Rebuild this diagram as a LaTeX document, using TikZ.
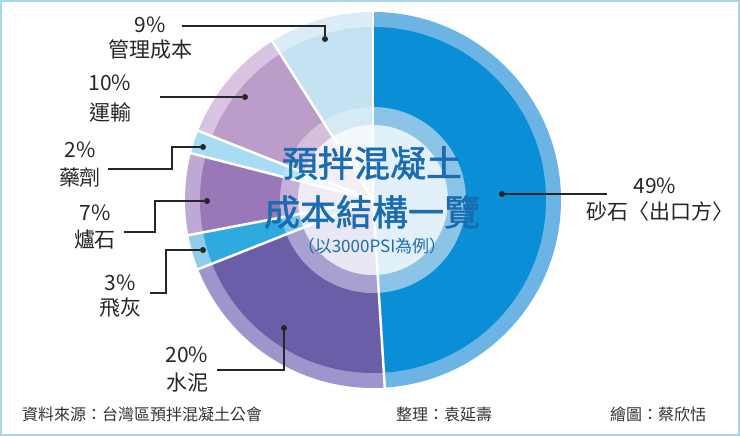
\documentclass[tikz,border=0pt]{standalone}
\usepackage{fontspec}
\setmainfont{Noto Sans CJK TC}
\newfontfamily\cjkb[FakeBold=1.5]{Noto Sans CJK TC}
\definecolor{sA}{HTML}{6CB4E4}\definecolor{sB}{HTML}{0A8FD6}\definecolor{sC}{HTML}{8CC4E8}
\definecolor{cA}{HTML}{9C96CC}\definecolor{cB}{HTML}{6A5EA8}\definecolor{cC}{HTML}{A8A0D0}
\definecolor{fA}{HTML}{90CDEC}\definecolor{fB}{HTML}{2EAADE}\definecolor{fC}{HTML}{7CC8EC}
\definecolor{lA}{HTML}{C0A8D4}\definecolor{lB}{HTML}{9A78B8}\definecolor{lC}{HTML}{C4B0D8}
\definecolor{yA}{HTML}{A8DCF4}\definecolor{yB}{HTML}{A8DCF4}\definecolor{yC}{HTML}{B8E2F6}
\definecolor{tA}{HTML}{D8C4E0}\definecolor{tB}{HTML}{BC9CC8}\definecolor{tC}{HTML}{D4C0DC}
\definecolor{gA}{HTML}{DCECF6}\definecolor{gB}{HTML}{C4E2F2}\definecolor{gC}{HTML}{D4EAF6}
\definecolor{frame}{HTML}{A8D4EC}\definecolor{ttl}{HTML}{1A6CB0}
\newcommand{\pieslice}[5]{%
 \fill[#3] (373,236) -- ++(#1:188) arc[start angle=#1,end angle=#2,radius=188] -- cycle;
 \fill[#4] (373,236) -- ++(#1:173) arc[start angle=#1,end angle=#2,radius=173] -- cycle;
 \fill[#5] (373,236) -- ++(#1:93) arc[start angle=#1,end angle=#2,radius=93] -- cycle;}
\tikzset{lbl/.style={font=\fontsize{21}{23}\selectfont,text=black!85,inner sep=0pt},
 lead/.style={draw=black!85,line width=1.2pt},
 dotn/.style={circle,fill=black!85,inner sep=0pt,minimum size=6pt},
 foot/.style={font=\fontsize{16}{18}\selectfont,text=black!80,anchor=west,inner sep=0pt},
 ttlt/.style={text=ttl,inner sep=0pt}}
\begin{document}
\begin{tikzpicture}[x=1pt,y=1pt]
\useasboundingbox (0,0) rectangle (740,436);
\draw[frame,line width=2pt] (1,1) rectangle (739,435);
\pieslice{90}{-86.4}{sA}{sB}{sC}
\pieslice{-86.4}{-158.4}{cA}{cB}{cC}
\pieslice{-158.4}{-169.2}{fA}{fB}{fC}
\pieslice{-169.2}{-194.4}{lA}{lB}{lC}
\pieslice{-194.4}{-201.6}{yA}{yB}{yC}
\pieslice{-201.6}{-237.6}{tA}{tB}{tC}
\pieslice{-237.6}{-270}{gA}{gB}{gC}
\foreach \a in {90,-86.4,-158.4,-169.2,-194.4,-201.6,-237.6}
  \draw[white,line width=2.5pt] (373,236) -- ++(\a:190);
\fill[white,opacity=0.75] (373,236) circle (75);
% title
\node[ttlt,font=\cjkb\fontsize{36}{38}\selectfont] (t1) at (372,273) {預拌混凝土};
\node[ttlt,font=\cjkb\fontsize{36}{38}\selectfont] (t2) at (372,224) {成本結構一覽};
\node[ttlt,font=\fontsize{17}{19}\selectfont] (t3) at (372,190) {（以3000PSI為例）};
% labels
\node[lbl] (g1) at (150,411) {9\%};\node[lbl] (g2) at (150,386) {管理成本};
\node[dotn] (gd) at (325,397) {};\coordinate (ga) at (182,410);
\draw[lead] (ga) -- (325,410) -- (gd);
\node[lbl] (r1) at (110,353) {10\%};\node[lbl] (r2) at (110,324) {運輸};
\node[dotn] (rd) at (245,339) {};\coordinate (ra) at (160,339);
\draw[lead] (ra) -- (rd);
\node[lbl] (y1) at (80,286) {2\%};\node[lbl] (y2) at (80,259) {藥劑};
\node[dotn] (yd) at (203,289) {};\coordinate (ya) at (108,267);
\draw[lead] (ya) -- (172,267) -- (172,289) -- (yd);
\node[lbl] (l1) at (95,223) {7\%};\node[lbl] (l2) at (95,196) {爐石};
\node[dotn] (ld) at (207,235) {};\coordinate (la) at (124,204);
\draw[lead] (la) -- (155,204) -- (155,235) -- (ld);
\node[lbl] (f1) at (120,153) {3\%};\node[lbl] (f2) at (120,128) {飛灰};
\node[dotn] (fd) at (203,186) {};\coordinate (fa) at (150,143);
\draw[lead] (fa) -- (166,143) -- (166,186) -- (fd);
\node[lbl] (c1) at (187,81) {20\%};\node[lbl] (c2) at (187,53) {水泥};
\node[dotn] (cd) at (284,108) {};\coordinate (ca) at (217,66);
\draw[lead] (ca) -- (284,66) -- (cd);
\node[lbl] (s1) at (655,250) {49\%};\node[lbl] (s2) at (660,224) {砂石〈出口方〉};
\node[dotn] (sd) at (502,242) {};\coordinate (sa) at (607,242);
\draw[lead] (sd) -- (sa);
% footer
\node[foot] (ft1) at (22,22) {資料來源：台灣區預拌混凝土公會};
\node[foot] (ft2) at (396,22) {整理：袁延壽};
\node[foot] (ft3) at (610,22) {繪圖：蔡欣恬};
\end{tikzpicture}
\end{document}
